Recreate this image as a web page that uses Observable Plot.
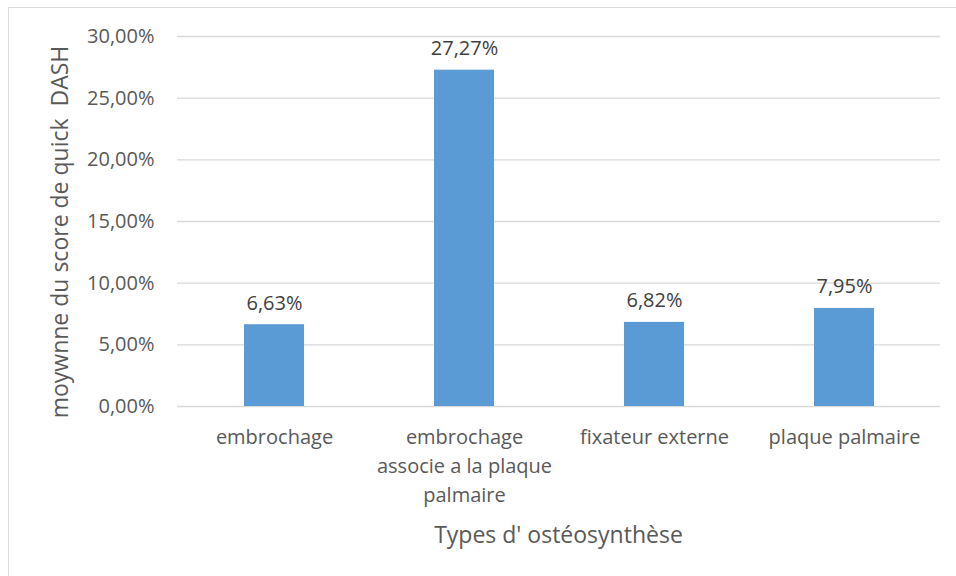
<!DOCTYPE html>
<html>
<head>
<meta charset="utf-8">
<script src="https://cdn.jsdelivr.net/npm/d3@7"></script>
<script src="https://cdn.jsdelivr.net/npm/@observablehq/plot@0.6"></script>
<style>
  html, body { margin: 0; padding: 0; background: #fff; overflow: hidden; }
  #wrap { position: relative; width: 956px; height: 576px; }
  #frame { position: absolute; left: 8px; top: 7px; width: 1000px; height: 1000px; border: 1.5px solid #d9d9d9; box-sizing: border-box; }
  #chart { position: absolute; left: 0; top: 0; }
  svg text { white-space: pre; }
</style>
</head>
<body>
<div id="wrap"><div id="frame"></div><div id="chart"></div></div>
<script>
const categories = ["embrochage", "embrochage associe a la plaque palmaire", "fixateur externe", "plaque palmaire"];
const tickLabels = ["embrochage", "embrochage\nassocie a la plaque\npalmaire", "fixateur externe", "plaque palmaire"];
const values = [6.63, 27.27, 6.82, 7.95];
const yTicks = [0, 5, 10, 15, 20, 25, 30];
const yTitle = "moywnne du score de quick  DASH";
const xTitle = "Types d' ostéosynthèse";

const data = categories.map((c, i) => ({cat: c, value: values[i]}));
const fmt = v => v.toFixed(2).replace(".", ",") + "%";
const labelOf = c => tickLabels[categories.indexOf(c)];

const chart = Plot.plot({
  width: 956,
  height: 576,
  marginLeft: 177,
  marginRight: 16,
  marginTop: 36,
  marginBottom: 170,
  style: {fontFamily: "'Open Sans', sans-serif", color: "#595959", background: "transparent"},
  x: {domain: categories, paddingInner: 0.685, paddingOuter: 0.3425, label: null},
  y: {domain: [0, 30], label: null},
  marks: [
    Plot.gridY(yTicks, {stroke: "#d9d9d9", strokeOpacity: 1, strokeWidth: 1.3}),
    Plot.barY(data, {x: "cat", y: "value", fill: "#5b9bd5"}),
    Plot.text(data, {x: "cat", y: "value", text: d => fmt(d.value), lineAnchor: "bottom", dy: -15, fontSize: 20, fill: "#404040"}),
    Plot.axisY(yTicks, {tickSize: 0, tickPadding: 23, tickFormat: fmt, fontSize: 20, fill: "#595959", label: null}),
    Plot.axisX({tickSize: 0, tickPadding: 17, tickFormat: labelOf, fontSize: 20, lineHeight: 1.45, fill: "#595959", label: null})
  ]
});

const sy = chart.scale("y");
const svg = d3.select(chart);
const plotLeft = 177, plotRight = 940;
svg.append("text")
  .attr("x", (plotLeft + plotRight) / 2).attr("y", 537)
  .attr("text-anchor", "middle").attr("dominant-baseline", "middle")
  .attr("font-size", 23).attr("fill", "#595959")
  .text(xTitle);
svg.append("text")
  .attr("transform", `translate(62, ${(sy.apply(0) + sy.apply(30)) / 2 + 11}) rotate(-90)`)
  .attr("text-anchor", "middle").attr("dominant-baseline", "middle")
  .attr("font-size", 23).attr("fill", "#595959")
  .text(yTitle);

document.getElementById("chart").appendChild(chart);
</script>
</body>
</html>
